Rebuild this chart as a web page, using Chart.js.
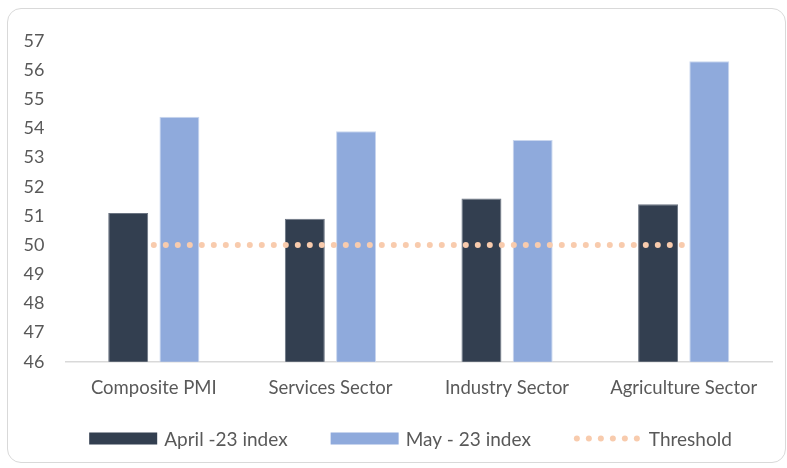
<!DOCTYPE html>
<html>
<head>
<meta charset="utf-8">
<script src="https://cdn.jsdelivr.net/npm/chart.js@4/dist/chart.umd.min.js"></script>
<style>
  body { margin: 0; background: #fff; }
  #frame {
    position: absolute; left: 7px; top: 8px;
    width: 777px; height: 453px;
    border: 1.5px solid #d9d9d9; border-radius: 14px;
    overflow: hidden;
  }
</style>
</head>
<body>
<div id="frame"><canvas id="myChart"></canvas></div>
<script>
const categories = ['Composite PMI', 'Services Sector', 'Industry Sector', 'Agriculture Sector'];
const aprilIndex = [51.1, 50.9, 51.6, 51.4];
const mayIndex = [54.4, 53.9, 53.6, 56.3];
const threshold = [50, 50, 50, 50];

const fontFamily = 'Lato, Carlito, "Open Sans", sans-serif';
Chart.defaults.font.family = fontFamily;
Chart.defaults.font.size = 18;
Chart.defaults.color = '#595959';

// legend drawn by hand so the dotted threshold swatch looks right
const bottomLegend = {
  id: 'bottomLegend',
  afterDraw(chart) {
    const ctx = chart.ctx;
    const y = 429.5;
    const boxW = 68, boxH = 12, gap = 7, spacing = 43;
    ctx.save();
    ctx.font = '19px ' + fontFamily;
    const items = chart.data.datasets.map(ds => ({ ds, w: boxW + gap + ctx.measureText(ds.label).width }));
    const total = items.reduce((s, it) => s + it.w, 0) + spacing * (items.length - 1);
    let x = 402.5 - total / 2;
    items.forEach(it => {
      const ds = it.ds;
      if (ds.type === 'line') {
        ctx.fillStyle = ds.borderColor;
        for (let i = 0; i < 6; i++) {
          ctx.beginPath();
          ctx.arc(x + 3 + i * 12, y, 3, 0, Math.PI * 2);
          ctx.fill();
        }
      } else {
        ctx.fillStyle = ds.backgroundColor;
        ctx.fillRect(x, y - boxH / 2, boxW, boxH);
      }
      ctx.fillStyle = '#595959';
      ctx.textBaseline = 'middle';
      ctx.fillText(ds.label, x + boxW + gap, y + 1);
      x += it.w + spacing;
    });
    ctx.restore();
  }
};

new Chart(document.getElementById('myChart').getContext('2d'), {
  data: {
    labels: categories,
    datasets: [
      {
        type: 'bar',
        label: 'April -23 index',
        data: aprilIndex,
        backgroundColor: '#333F50',
        borderColor: '#6b7482',
        borderWidth: 1,
        barPercentage: 0.78,
        categoryPercentage: 0.58,
        order: 1
      },
      {
        type: 'bar',
        label: 'May - 23 index',
        data: mayIndex,
        backgroundColor: '#8FAADC',
        borderColor: '#c9d6ee',
        borderWidth: 1,
        barPercentage: 0.78,
        categoryPercentage: 0.58,
        order: 1
      },
      {
        type: 'line',
        label: 'Threshold',
        data: threshold,
        borderColor: '#F8CBAD',
        borderWidth: 6,
        borderDash: [0, 12],
        borderCapStyle: 'round',
        pointRadius: 0,
        fill: false,
        order: 0
      }
    ]
  },
  options: {
    responsive: true,
    maintainAspectRatio: false,
    animation: false,
    layout: { padding: { left: 0, right: 13, top: 24, bottom: 48 } },
    plugins: {
      legend: { display: false },
      tooltip: { enabled: false }
    },
    scales: {
      x: {
        grid: { display: false, drawTicks: false },
        border: { display: true, color: '#d9d9d9', width: 1.5 },
        ticks: { padding: 15, maxRotation: 0, font: { size: 18.5 } }
      },
      y: {
        min: 46,
        max: 57,
        grid: { display: false, drawTicks: false },
        border: { display: false },
        ticks: { stepSize: 1, padding: 21 },
        afterFit(scale) { scale.width = 57.5; }
      }
    }
  },
  plugins: [bottomLegend]
});
</script>
</body>
</html>
